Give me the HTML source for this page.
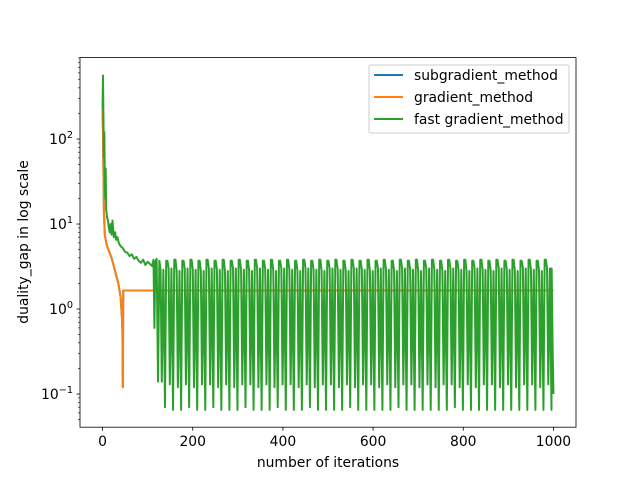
<!DOCTYPE html>
<html><head><meta charset="utf-8"><style>
body{margin:0;background:#fff}
svg text{font-family:"DejaVu Sans","Liberation Sans",sans-serif;font-size:13.9px;fill:#000}
</style></head><body>
<svg id="chart" width="640" height="480" xmlns="http://www.w3.org/2000/svg">
<rect width="640" height="480" fill="#fff"/>
<g id="plot"></g>
<rect x="80" y="57.6" width="496" height="369.6" fill="none" stroke="#000" stroke-width="0.8"/>
<g id="axes"></g>
<text x="328" y="467" text-anchor="middle">number of iterations</text>
<text transform="translate(28,242) rotate(-90)" text-anchor="middle">duality_gap in log scale</text>
<g>
<rect x="369" y="65" width="200" height="68" rx="2" fill="#fff" fill-opacity="0.8" stroke="#ccc" stroke-width="1"/>
<g><line x1="374" y1="75" x2="403" y2="75" stroke="#1f77b4" stroke-width="2"/><text x="414" y="80">subgradient_method</text></g>
<g><line x1="374" y1="97" x2="403" y2="97" stroke="#ff7f0e" stroke-width="2"/><text x="414" y="102">gradient_method</text></g>
<g><line x1="374" y1="119" x2="403" y2="119" stroke="#2ca02c" stroke-width="2"/><text x="414" y="124">fast gradient_method</text></g>
</g>
</svg>
<script>
const xTicks=[0,200,400,600,800,1000];
const yTickExps=[-1,0,1,2];
const gradIter=[0,1,2,3,5,7,10,15,20,25,30,35,40,43,44,45,46,1000];
const gradVal=[230,120,40,14,7.5,6.5,5.5,4.7,4,3.2,2.5,2.0,1.4,0.8,0.55,0.12,1.65,1.65];
const fastHeadIter=[0,1,2,3,4,5,6,7,8,10,12,14,16,18,20,22,25,28,30,33,36,40,45,50,55,60,65,70,75,80,85,90,95,100,105,110,113,115,117,120,123,126];
const fastHeadVal=[230,560,180,60,120,30,20,45,15,12,11,9,8,10,7.5,11,7,8,6.5,7,6,5.5,5.2,4.7,4.6,4.2,4.4,3.9,4.1,3.7,3.5,3.8,3.3,3.6,3.4,3.2,3.8,0.6,3.6,3.9,0.14,3.7];
const fastCycleLow1=[0.14,0.13,0.12,0.13,0.12,0.13,0.13,0.12,0.13,0.12,0.13,0.13,0.12,0.13,0.12,0.13,0.13,0.12,0.13,0.12,0.13,0.13,0.12,0.13,0.12,0.13,0.13,0.12,0.13,0.12,0.13,0.13,0.12,0.13,0.12,0.13,0.13,0.12,0.13,0.12,0.13,0.13,0.12,0.13,0.12,0.13,0.13,0.12,0.13];
const fastCycleLow2=[0.07,0.065,0.065,0.07,0.065,0.065,0.07,0.065,0.065,0.065,0.07,0.065,0.065,0.065,0.07,0.065,0.065,0.065,0.07,0.065,0.065,0.065,0.065,0.07,0.065,0.065,0.065,0.065,0.065,0.07,0.065,0.065,0.065,0.065,0.065,0.065,0.07,0.065,0.065,0.065,0.065,0.065,0.065,0.065,0.065,0.065,0.065,0.065,0.065];
const fastCycleHigh=[3.7,3.8,3.7,3.8,3.7,3.8,3.7,3.8,3.7,3.8,3.7,3.8,3.7,3.8,3.7,3.8,3.7,3.8,3.7,3.8,3.7,3.8,3.7,3.8,3.7,3.8,3.7,3.8,3.7,3.8,3.7,3.8,3.7,3.8,3.7,3.8,3.7,3.8,3.7,3.8,3.7,3.8,3.7,3.8,3.7,3.8,3.7,3.8,3.7];
const fastCycleMid=[2.9,3.0,2.8,3.0,2.9,2.8,3.0,2.9,2.8,3.0,2.9,2.8,3.0,2.9,2.8,3.0,2.9,2.8,3.0,2.9,2.8,3.0,2.9,2.8,3.0,2.9,2.8,3.0,2.9,2.8,3.0,2.9,2.8,3.0,2.9,2.8,3.0,2.9,2.8,3.0,2.9,2.8,3.0,2.9,2.8,3.0,2.9,2.8,3.0];
const fastTailIter=[996,998,1000];
const fastTailVal=[3.0,0.4,0.1];

const NS="http://www.w3.org/2000/svg";
const X=v=>80+(v+50)*496/1100;
const L0=Math.log10(0.0407),L1=Math.log10(908);
const Y=v=>427.2-(Math.log10(v)-L0)/(L1-L0)*369.6;
const plot=document.getElementById('plot'),axes=document.getElementById('axes');
function mk(tag,at,parent){const e=document.createElementNS(NS,tag);for(const k in at)e.setAttribute(k,at[k]);parent.appendChild(e);return e;}
function line(its,vals,color,name){
  const d=its.map((t,i)=>(i?'L':'M')+X(t).toFixed(2)+','+Y(vals[i]).toFixed(2)).join('');
  const p=mk('path',{d:d,fill:'none',stroke:color,'stroke-width':2,'stroke-linejoin':'round'},plot);
  
  
}
const fIt=fastHeadIter.slice(),fV=fastHeadVal.slice();
const period=875/fastCycleHigh.length;
for(let c=0;c<fastCycleHigh.length;c++){
  const s=126+c*period;
  fIt.push(s+period*0.15,s+period*0.3,s+period*0.5,s+period*0.7,s+period*0.85,s+period);
  fV.push(fastCycleMid[c],fastCycleLow1[c],fastCycleMid[c],fastCycleLow2[c],fastCycleHigh[c],fastCycleHigh[c]);
}
while(fIt.length&&fIt[fIt.length-1]>=996){fIt.pop();fV.pop();}
fastTailIter.forEach((t,i)=>{fIt.push(t);fV.push(fastTailVal[i]);});
line(gradIter,gradVal,'#1f77b4','subgradient-line');
line(gradIter,gradVal,'#ff7f0e','gradient-line');
line(fIt,fV,'#2ca02c','fast-gradient-line');
xTicks.forEach(t=>{
  const x=X(t);
  const l=mk('line',{x1:x,x2:x,y1:427.2,y2:430.7,stroke:'#000','stroke-width':0.8},axes);
  
  
  const tx=mk('text',{x:x,y:446,'text-anchor':'middle'},axes);tx.textContent=t;
  
  
});
yTickExps.forEach(e=>{
  const y=Y(Math.pow(10,e));
  const l=mk('line',{x1:76.5,x2:80,y1:y,y2:y,stroke:'#000','stroke-width':0.8},axes);
  
  
  const tx=mk('text',{x:73,y:y+5,'text-anchor':'end'},axes);
  tx.innerHTML='10<tspan dy="-6" style="font-size:9.7px">'+(e<0?'\u2212'+(-e):e)+'</tspan>';
  
  
});
for(let e=-2;e<=2;e++)for(let m=2;m<=9;m++){
  const v=m*Math.pow(10,e);const y=Y(v);
  if(y<57.6||y>427.2)continue;
  const l=mk('line',{x1:78,x2:80,y1:y,y2:y,stroke:'#000','stroke-width':0.6},axes);
  
  
}
</script>
</body></html>
